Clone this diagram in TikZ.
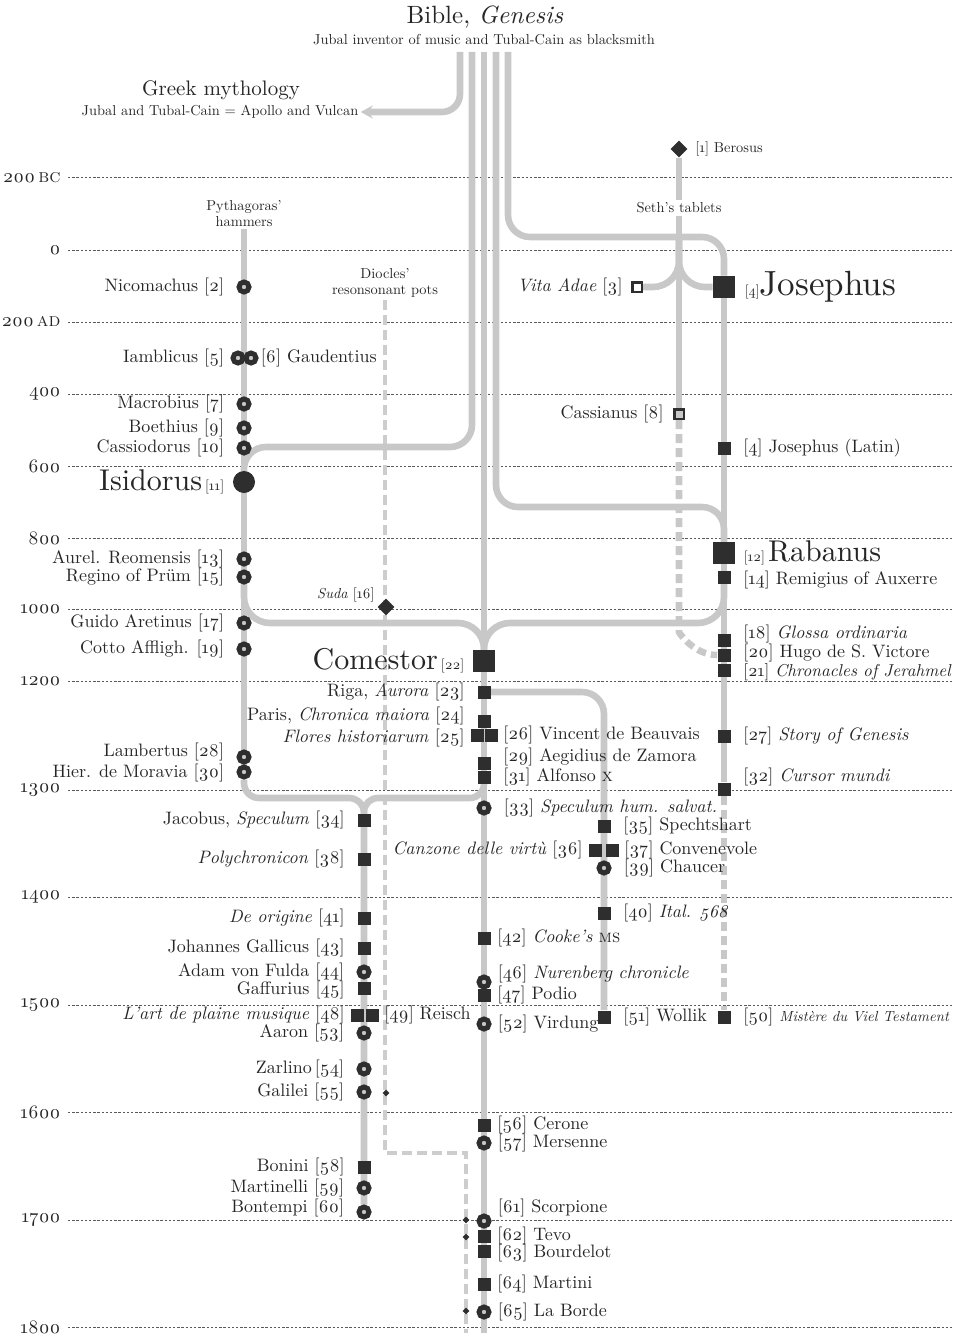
\documentclass[tikz,border=0pt]{standalone}
\usepackage{fontspec}
\setmainfont{lmroman10-regular.otf}[ItalicFont=lmroman10-italic.otf, BoldFont=lmroman10-bold.otf, BoldItalicFont=lmroman10-bolditalic.otf, SmallCapsFont=lmromancaps10-regular.otf]
\usepackage{tikz}
\usetikzlibrary{arrows.meta,positioning,shapes.geometric,backgrounds}
\definecolor{Ink}{HTML}{2E2E2E}
\definecolor{TextInk}{HTML}{262626}
\definecolor{LineGrey}{HTML}{C8C8C8}
\definecolor{PotGrey}{HTML}{CDCDCD}
\definecolor{GridInk}{HTML}{5A5A5A}
\newcommand{\srcno}[1]{[\oldstylenums{#1}]}
\newcommand{\srcsmall}[1]{{\fontsize{7}{8}\selectfont[\oldstylenums{#1}]}}
\newcommand{\bigname}[1]{{\fontsize{15}{17}\selectfont #1}}

\begin{document}
\begin{tikzpicture}[x=0.5pt, y=-0.5pt, node distance=6pt,
  flow/.style={draw=LineGrey, line width=3.3pt, rounded corners=11pt},
  flowdash/.style={flow, dash pattern=on 4.5pt off 2.5pt},
  potline/.style={draw=PotGrey, line width=2pt, dash pattern=on 5pt off 2.5pt},
  yearline/.style={draw=GridInk, line width=0.5pt, dash pattern=on 1.2pt off 0.9pt},
  yearlbl/.style={inner sep=0pt, text=TextInk, font=\fontsize{9.5}{11}\selectfont},
  ring/.style={circle, draw=Ink, fill=LineGrey, line width=2.5pt, minimum size=5pt, inner sep=0pt},
  sq/.style={rectangle, fill=Ink, minimum size=6.5pt, inner sep=0pt},
  bigsq/.style={sq, minimum size=11pt},
  bigdot/.style={circle, fill=Ink, minimum size=11pt, inner sep=0pt},
  opensq/.style={rectangle, draw=Ink, fill=white, line width=1.25pt, minimum size=4.75pt, inner sep=0pt},
  gem/.style={diamond, fill=Ink, minimum size=8.5pt, inner sep=0pt},
  tinygem/.style={diamond, fill=Ink, minimum size=3.6pt, inner sep=0pt},
  lbl/.style={inner sep=0pt, text=TextInk, font=\fontsize{9}{10}\selectfont},
  note/.style={inner sep=1pt, text=TextInk, align=center, font=\fontsize{7.2}{8}\selectfont},
  heading/.style={inner sep=0pt, text=TextInk, font=\fontsize{12.5}{15}\selectfont}]

  \useasboundingbox (0,0) rectangle (956,1337);

  \node[heading] (bible) at (485,17) {Bible, \textit{Genesis}};
  \node[note] (biblesub) at (484,40) {Jubal inventor of music and Tubal-Cain as blacksmith};
  \node[heading, font=\fontsize{10.5}{12}\selectfont] (greek) at (221,90) {Greek mythology};
  \node[note] (greeksub) at (220,112) {Jubal and Tubal-Cain = Apollo and Vulcan};
  \node[note] (pyth) at (244,214) {Pythagoras'\\hammers};
  \node[note] (diocles) at (385,283) {Diocles'\\resonsonant pots};
  \node[note] (seth) at (679,208) {Seth's tablets};

  \coordinate (b1) at (460,52);
  \coordinate (b2) at (472,52);
  \coordinate (b3) at (484,52);
  \coordinate (b4) at (496,52);
  \coordinate (b5) at (508,52);
  \coordinate (fork) at (679,240);
  \coordinate (trunkend) at (484,1333);
  \coordinate (potend) at (466,1333);

  \node[ring] (nicomachus) at (244,287) {};
  \node[lbl, left=of nicomachus] (nicomachus-t) {Nicomachus \srcno{2}};
  \node[ring] (iamblicus) at (238,358) {};
  \node[ring] (gaudentius) at (251,358) {};
  \node[lbl, left=3pt of iamblicus] (iamblicus-t) {Iamblicus \srcno{5}};
  \node[lbl, right=1pt of gaudentius] (gaudentius-t) {\srcno{6} Gaudentius};
  \node[ring] (macrobius) at (244,404) {};
  \node[lbl, left=of macrobius] (macrobius-t) {Macrobius \srcno{7}};
  \node[ring] (boethius) at (244,428) {};
  \node[lbl, left=of boethius] (boethius-t) {Boethius \srcno{9}};
  \node[ring] (cassiodorus) at (244,448) {};
  \node[lbl, left=of cassiodorus] (cassiodorus-t) {Cassiodorus \srcno{10}};
  \node[bigdot] (isidorus) at (244,482) {};
  \node[lbl, left=4pt of isidorus] (isidorus-t) {\bigname{Isidorus}\,\srcsmall{11}};
  \node[ring] (aurelian) at (244,559) {};
  \node[lbl, left=of aurelian] (aurelian-t) {Aurel. Reomensis \srcno{13}};
  \node[ring] (regino) at (244,577) {};
  \node[lbl, left=of regino] (regino-t) {Regino of Prüm \srcno{15}};
  \node[ring] (guido) at (244,623) {};
  \node[lbl, left=of guido] (guido-t) {Guido Aretinus \srcno{17}};
  \node[ring] (cotto) at (244,649) {};
  \node[lbl, left=of cotto] (cotto-t) {Cotto Affligh. \srcno{19}};
  \node[ring] (lambertus) at (244,757) {};
  \node[lbl, left=of lambertus, yshift=2.5pt] (lambertus-t) {Lambertus \srcno{28}};
  \node[ring] (hieronymus) at (244,772) {};
  \node[lbl, left=of hieronymus, yshift=-0.5pt] (hieronymus-t) {Hier. de Moravia \srcno{30}};

  \node[sq] (jacobus) at (364,820) {};
  \node[lbl, left=of jacobus] (jacobus-t) {Jacobus, \textit{Speculum} \srcno{34}};
  \node[sq] (polychronicon) at (364,859) {};
  \node[lbl, left=of polychronicon] (polychronicon-t) {\textit{Polychronicon} \srcno{38}};
  \node[sq] (deorigine) at (364,918) {};
  \node[lbl, left=of deorigine] (deorigine-t) {\textit{De origine} \srcno{41}};
  \node[sq] (gallicus) at (364,948) {};
  \node[lbl, left=of gallicus] (gallicus-t) {Johannes Gallicus \srcno{43}};
  \node[ring] (fulda) at (364,972) {};
  \node[lbl, left=of fulda] (fulda-t) {Adam von Fulda \srcno{44}};
  \node[sq] (gaffurius) at (364,988) {};
  \node[lbl, left=of gaffurius, yshift=-1pt] (gaffurius-t) {Gaffurius \srcno{45}};
  \node[sq] (plaine) at (357,1015) {};
  \node[sq] (reisch) at (372,1015) {};
  \node[lbl, left=2.5pt of plaine] (plaine-t) {\textit{L'art de plaine musique} \srcno{48}};
  \node[lbl, right=2.5pt of reisch] (reisch-t) {\srcno{49} Reisch};
  \node[ring] (aaron) at (364,1033) {};
  \node[lbl, left=of aaron] (aaron-t) {Aaron \srcno{53}};
  \node[ring] (zarlino) at (364,1069) {};
  \node[lbl, left=of zarlino] (zarlino-t) {Zarlino\,\srcno{54}};
  \node[ring] (galilei) at (364,1092) {};
  \node[lbl, left=of galilei] (galilei-t) {Galilei \srcno{55}};
  \node[sq] (bonini) at (364,1167) {};
  \node[lbl, left=of bonini] (bonini-t) {Bonini \srcno{58}};
  \node[ring] (martinelli) at (364,1188) {};
  \node[lbl, left=of martinelli] (martinelli-t) {Martinelli \srcno{59}};
  \node[ring] (bontempi) at (364,1212) {};
  \node[lbl, left=of bontempi, yshift=2pt] (bontempi-t) {Bontempi \srcno{60}};

  \node[gem] (suda) at (386,607) {};
  \node[note, inner sep=0pt, left=1pt of suda, yshift=6pt] (suda-t) {\textit{Suda} \srcno{16}};
  \node[tinygem] (dgalilei) at (386,1093) {};
  \node[tinygem] (dscorpione) at (466,1220) {};
  \node[tinygem] (dtevo) at (466,1237) {};
  \node[tinygem] (dlaborde) at (466,1311) {};

  \node[bigsq] (comestor) at (484,661) {};
  \node[lbl, left=4pt of comestor] (comestor-t) {\bigname{Comestor}\,\srcsmall{22}};
  \node[sq] (riga) at (484,692) {};
  \node[lbl, left=of riga] (riga-t) {Riga, \textit{Aurora} \srcno{23}};
  \node[sq] (paris) at (484,721) {};
  \node[lbl, left=of paris, yshift=2.5pt] (paris-t) {Paris, \textit{Chronica maiora} \srcno{24}};
  \node[sq] (flores) at (477,735) {};
  \node[sq] (vincent) at (491,735) {};
  \node[lbl, left=2.5pt of flores, yshift=-1.5pt] (flores-t) {\textit{Flores historiarum} \srcno{25}};
  \node[lbl, right=2.5pt of vincent] (vincent-t) {\srcno{26} Vincent de Beauvais};
  \node[sq] (aegidius) at (484,763) {};
  \node[lbl, right=of aegidius, yshift=3pt] (aegidius-t) {\srcno{29} Aegidius de Zamora};
  \node[sq] (alfonso) at (484,777) {};
  \node[lbl, right=of alfonso] (alfonso-t) {\srcno{31} Alfonso \textsc{x}};
  \node[ring] (speculum) at (484,808) {};
  \node[lbl, right=of speculum] (speculum-t) {\srcno{33} \textit{Speculum hum. salvat.}};
  \node[sq] (cooke) at (484,938) {};
  \node[lbl, right=3pt of cooke] (cooke-t) {\srcno{42} \textit{Cooke's} \textsc{ms}};
  \node[ring] (nurenberg) at (484,982) {};
  \node[lbl, right=3pt of nurenberg, yshift=4pt] (nurenberg-t) {\srcno{46} \textit{Nurenberg chronicle}};
  \node[sq] (podio) at (484,995) {};
  \node[lbl, right=3pt of podio] (podio-t) {\srcno{47} Podio};
  \node[ring] (virdung) at (484,1024) {};
  \node[lbl, right=3pt of virdung] (virdung-t) {\srcno{52} Virdung};
  \node[sq] (cerone) at (484,1125) {};
  \node[lbl, right=3pt of cerone] (cerone-t) {\srcno{56} Cerone};
  \node[ring] (mersenne) at (484,1143) {};
  \node[lbl, right=3pt of mersenne] (mersenne-t) {\srcno{57} Mersenne};
  \node[ring] (scorpione) at (484,1221) {};
  \node[lbl, right=3pt of scorpione, yshift=6.5pt] (scorpione-t) {\srcno{61} Scorpione};
  \node[sq] (tevo) at (484,1236) {};
  \node[lbl, right=3pt of tevo] (tevo-t) {\srcno{62} Tevo};
  \node[sq] (bourdelot) at (484,1251) {};
  \node[lbl, right=3pt of bourdelot, yshift=-1pt] (bourdelot-t) {\srcno{63} Bourdelot};
  \node[sq] (martini) at (484,1284) {};
  \node[lbl, right=3pt of martini] (martini-t) {\srcno{64} Martini};
  \node[ring] (laborde) at (484,1312) {};
  \node[lbl, right=3pt of laborde] (laborde-t) {\srcno{65} La Borde};

  \node[sq] (spechtshart) at (604,826) {};
  \node[lbl, right=of spechtshart] (spechtshart-t) {\srcno{35} Spechtshart};
  \node[sq] (canzone) at (595,850) {};
  \node[sq] (convenevole) at (612,850) {};
  \node[lbl, left=2.5pt of canzone] (canzone-t) {\textit{Canzone delle virtù} \srcno{36}};
  \node[lbl, right=2.5pt of convenevole] (convenevole-t) {\srcno{37} Convenevole};
  \node[ring] (chaucer) at (604,868) {};
  \node[lbl, right=of chaucer] (chaucer-t) {\srcno{39} Chaucer};
  \node[sq] (ital) at (604,913) {};
  \node[lbl, right=of ital] (ital-t) {\srcno{40} \textit{Ital. \oldstylenums{568}}};
  \node[sq] (wollik) at (604,1017) {};
  \node[lbl, right=of wollik] (wollik-t) {\srcno{51} Wollik};

  \node[gem] (berosus) at (679,149) {};
  \node[note, inner sep=0pt, right=3.5pt of berosus] (berosus-t) {\srcno{1} Berosus};
  \node[opensq] (vitaadae) at (637,287) {};
  \node[lbl, left=4pt of vitaadae] (vitaadae-t) {\textit{Vita Adae} \srcno{3}};
  \node[opensq, fill=LineGrey] (cassianus) at (679,414) {};
  \node[lbl, left=4.5pt of cassianus] (cassianus-t) {Cassianus \srcno{8}};

  \node[bigsq] (josephus) at (724,287) {};
  \node[lbl, right=4.5pt of josephus] (josephus-t) {\srcsmall{4}{\fontsize{17.5}{20}\selectfont Josephus}};
  \node[sq] (josephuslat) at (724,448) {};
  \node[lbl, right=of josephuslat] (josephuslat-t) {\srcno{4} Josephus (Latin)};
  \node[bigsq] (rabanus) at (724,553) {};
  \node[lbl, right=4pt of rabanus] (rabanus-t) {\srcsmall{12}\,\bigname{Rabanus}};
  \node[sq] (remigius) at (724,577) {};
  \node[lbl, right=of remigius, yshift=-1.5pt] (remigius-t) {\srcno{14} Remigius of Auxerre};
  \node[sq] (glossa) at (724,640) {};
  \node[lbl, right=of glossa, yshift=3pt] (glossa-t) {\srcno{18} \textit{Glossa ordinaria}};
  \node[sq] (hugo) at (724,655) {};
  \node[lbl, right=of hugo, yshift=1pt] (hugo-t) {\srcno{20} Hugo de S. Victore};
  \node[sq] (chronacles) at (724,670) {};
  \node[lbl, right=of chronacles, yshift=-1pt, font=\fontsize{8.6}{10}\selectfont] (chronacles-t) {\srcno{21} \textit{Chronacles of Jerahmel}};
  \node[sq] (storygenesis) at (724,736) {};
  \node[lbl, right=of storygenesis] (storygenesis-t) {\srcno{27} \textit{Story of Genesis}};
  \node[sq] (cursor) at (724,789) {};
  \node[lbl, right=of cursor, yshift=6pt] (cursor-t) {\srcno{32} \textit{Cursor mundi}};
  \node[sq] (mistere) at (724,1017) {};
  \node[lbl, right=of mistere] (mistere-t) {\srcno{50} {\fontsize{7.3}{9}\selectfont\textit{Mistère du Viel Testament}}};

  \begin{scope}[on background layer]
    \draw[yearline] (68,178) node[yearlbl, left=3.5pt] (y200bc) {\oldstylenums{200}\,\textsc{bc}} -- (952,178);
    \draw[yearline] (68,250) node[yearlbl, left=3.5pt] (y0) {\oldstylenums{0}} -- (952,250);
    \draw[yearline] (68,322) node[yearlbl, left=3.5pt] (y200) {\oldstylenums{200}\,\textsc{ad}} -- (952,322);
    \draw[yearline] (68,394) node[yearlbl, left=3.5pt] (y400) {\oldstylenums{400}} -- (952,394);
    \draw[yearline] (68,466) node[yearlbl, left=3.5pt] (y600) {\oldstylenums{600}} -- (952,466);
    \draw[yearline] (68,538) node[yearlbl, left=3.5pt] (y800) {\oldstylenums{800}} -- (952,538);
    \draw[yearline] (68,609) node[yearlbl, left=3.5pt] (y1000) {\oldstylenums{1000}} -- (952,609);
    \draw[yearline] (68,681) node[yearlbl, left=3.5pt] (y1200) {\oldstylenums{1200}} -- (952,681);
    \draw[yearline] (68,790) node[yearlbl, left=3.5pt] (y1300) {\oldstylenums{1300}} -- (952,790);
    \draw[yearline] (68,897) node[yearlbl, left=3.5pt] (y1400) {\oldstylenums{1400}} -- (952,897);
    \draw[yearline] (68,1005) node[yearlbl, left=3.5pt] (y1500) {\oldstylenums{1500}} -- (952,1005);
    \draw[yearline] (68,1112) node[yearlbl, left=3.5pt] (y1600) {\oldstylenums{1600}} -- (952,1112);
    \draw[yearline] (68,1220) node[yearlbl, left=3.5pt] (y1700) {\oldstylenums{1700}} -- (952,1220);
    \draw[yearline] (68,1327) node[yearlbl, left=3.5pt] (y1800) {\oldstylenums{1800}} -- (952,1327);

    \draw[potline] (diocles) |- (430,1153) -| (potend);

    \draw[flow, rounded corners=9pt, -{Stealth[length=6pt, width=6.5pt]}] (b1) |- (greeksub.east);
    \draw[flow] (b2) |- (350,447) -| (isidorus);
    \draw[flow] (b3) -- (trunkend);
    \draw[flow] (b4) |- (600,507) -| (rabanus);
    \draw[flow] (b5) |- (600,237) -| (josephus);
    \draw[flow] (berosus) -- (seth);
    \draw[flow] (seth) -- (cassianus);
    \draw[flow, rounded corners=13pt] (fork) |- (vitaadae);
    \draw[flow, rounded corners=13pt] (fork) |- (josephus);
    \draw[flow] (josephus) -- (cursor);
    \draw[flowdash] (cursor) -- (mistere);
    \draw[flowdash] (cassianus) -- ++(0,196) to[out=-90, in=180] (hugo);
    \draw[flow, rounded corners=13pt] (regino) |- (360,623) -| (comestor);
    \draw[flow, rounded corners=13pt] (remigius) |- (600,623) -| (comestor);
    \draw[flow] (pyth) -- (hieronymus);
    \draw[flow, rounded corners=7.5pt] (hieronymus) |- (300,798) -| (bontempi);
    \draw[flow, rounded corners=7pt] (alfonso) |- (420,798) -| (jacobus);
    \draw[flow] (riga) -| (wollik);
  \end{scope}
\end{tikzpicture}
\end{document}
